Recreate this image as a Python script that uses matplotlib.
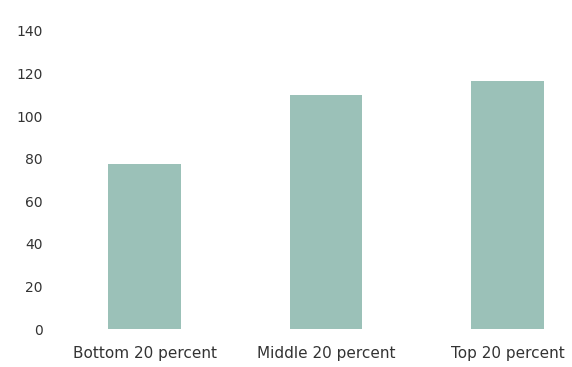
import matplotlib
matplotlib.use("Agg")
import matplotlib.pyplot as plt

# income groups and their values
groups = ["Bottom 20 percent", "Middle 20 percent", "Top 20 percent"]
values = [77.4, 110, 116.5]
yticks = [0, 20, 40, 60, 80, 100, 120, 140]

plt.rcParams['font.family'] = ['DejaVu Sans']

fig = plt.figure(figsize=(5.72, 3.67), dpi=100)
ax = fig.add_axes([54 / 572, 0.1027, (562 - 54) / 572, 0.9163 - 0.1027])

x = range(len(groups))
ax.bar(x, values, width=0.4, color="#9bc1b8")

ax.set_xlim(-0.5, 2.3)
ax.set_ylim(0, 140)
ax.set_yticks(yticks)
ax.set_xticks(list(x))
ax.set_xticklabels(groups)

for side in ax.spines.values():
    side.set_visible(False)
ax.tick_params(axis="y", length=0, pad=8, labelsize=10, labelcolor="#333333")
ax.tick_params(axis="x", length=0, pad=12, labelsize=11, labelcolor="#333333")

fig.savefig("out.png", dpi=100)
